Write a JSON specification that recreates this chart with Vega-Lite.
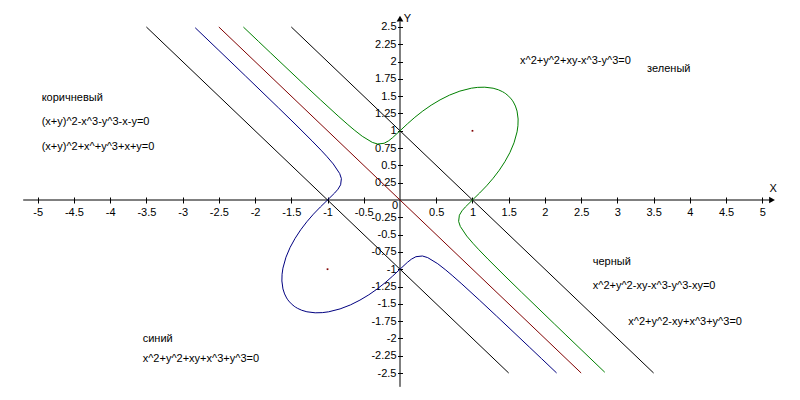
{
  "$schema": "https://vega.github.io/schema/vega-lite/v6.json",
  "width": 800,
  "height": 400,
  "autosize": "none",
  "padding": 0,
  "background": "white",
  "config": {"view": {"stroke": null}},
  "encoding": {
    "x": {
      "field": "x",
      "type": "quantitative",
      "scale": {"domain": [-5.52, 5.52], "nice": false, "zero": false},
      "axis": {
        "orient": "bottom",
        "offset": -203,
        "domain": false,
        "grid": false,
        "title": null,
        "tickSize": 6,
        "tickColor": "black",
        "tickWidth": 1,
        "values": [-5, -4.5, -4, -3.5, -3, -2.5, -2, -1.5, -1, -0.5, 0.5, 1, 1.5, 2, 2.5, 3, 3.5, 4, 4.5, 5],
        "labelExpr": "'' + datum.value",
        "labelFont": "Liberation Sans",
        "labelFontSize": 11,
        "labelColor": "black",
        "labelPadding": 3,
        "labelOverlap": false,
        "labelFlush": false,
        "labelBound": false
      }
    },
    "y": {
      "field": "y",
      "type": "quantitative",
      "scale": {"domain": [-2.89, 2.89], "nice": false, "zero": false},
      "axis": {
        "orient": "left",
        "offset": -402.5,
        "domain": false,
        "grid": false,
        "title": null,
        "tickSize": 5,
        "tickColor": "black",
        "tickWidth": 1,
        "values": [-2.5, -2.25, -2, -1.75, -1.5, -1.25, -1, -0.75, -0.5, -0.25, 0.25, 0.5, 0.75, 1, 1.25, 1.5, 1.75, 2, 2.25, 2.5],
        "labelExpr": "'' + datum.value",
        "labelFont": "Liberation Sans",
        "labelFontSize": 11,
        "labelColor": "black",
        "labelPadding": 1.5,
        "labelOverlap": false,
        "labelFlush": false,
        "labelBound": false
      }
    }
  },
  "layer": [
    {
      "data": {"values": [
        {"x": -5.2, "x2": 5.12, "y": 0, "y2": 0},
        {"x": 0, "x2": 0, "y": -2.7, "y2": 2.58}
      ]},
      "mark": {"type": "rule", "color": "black", "strokeWidth": 1},
      "encoding": {"x2": {"field": "x2"}, "y2": {"field": "y2"}}
    },
    {
      "data": {"values": [
        {"c": "k1", "i": 0, "x": -3.5, "y": 2.5}, {"c": "k1", "i": 1, "x": 1.5, "y": -2.5},
        {"c": "k2", "i": 0, "x": -1.5, "y": 2.5}, {"c": "k2", "i": 1, "x": 3.5, "y": -2.5},
        {"c": "r", "i": 0, "x": -2.5, "y": 2.5}, {"c": "r", "i": 1, "x": 2.5, "y": -2.5},
        {"c": "g", "i": 1, "x": -2.161, "y": 2.499},
        {"c": "g", "i": 2, "x": -1.951, "y": 2.29},
        {"c": "g", "i": 3, "x": -1.79, "y": 2.13},
        {"c": "g", "i": 4, "x": -1.33, "y": 1.675},
        {"c": "g", "i": 5, "x": -1.099, "y": 1.449},
        {"c": "g", "i": 6, "x": -0.854, "y": 1.214},
        {"c": "g", "i": 7, "x": -0.7195, "y": 1.0895},
        {"c": "g", "i": 8, "x": -0.632, "y": 1.012},
        {"c": "g", "i": 9, "x": -0.521, "y": 0.921},
        {"c": "g", "i": 10, "x": -0.3825, "y": 0.8325},
        {"c": "g", "i": 11, "x": -0.309, "y": 0.809},
        {"c": "g", "i": 12, "x": -0.2195, "y": 0.8195},
        {"c": "g", "i": 13, "x": -0.156, "y": 0.856},
        {"c": "g", "i": 14, "x": -0.1015, "y": 0.9015},
        {"c": "g", "i": 15, "x": 0, "y": 1},
        {"c": "g", "i": 16, "x": 0.101, "y": 1.099},
        {"c": "g", "i": 17, "x": 0.205, "y": 1.195},
        {"c": "g", "i": 18, "x": 0.3145, "y": 1.2855},
        {"c": "g", "i": 19, "x": 0.43, "y": 1.37},
        {"c": "g", "i": 20, "x": 0.553, "y": 1.447},
        {"c": "g", "i": 21, "x": 0.684, "y": 1.516},
        {"c": "g", "i": 22, "x": 0.8265, "y": 1.5735},
        {"c": "g", "i": 23, "x": 0.9845, "y": 1.6155},
        {"c": "g", "i": 24, "x": 1.0725, "y": 1.6275},
        {"c": "g", "i": 25, "x": 1.17, "y": 1.63},
        {"c": "g", "i": 26, "x": 1.2848, "y": 1.6153},
        {"c": "g", "i": 27, "x": 1.3573, "y": 1.5927},
        {"c": "g", "i": 28, "x": 1.4152, "y": 1.5648},
        {"c": "g", "i": 29, "x": 1.4421, "y": 1.548},
        {"c": "g", "i": 30, "x": 1.4601, "y": 1.535},
        {"c": "g", "i": 31, "x": 1.5, "y": 1.5},
        {"c": "g", "i": 32, "x": 1.535, "y": 1.4601},
        {"c": "g", "i": 33, "x": 1.548, "y": 1.4421},
        {"c": "g", "i": 34, "x": 1.5648, "y": 1.4152},
        {"c": "g", "i": 35, "x": 1.5927, "y": 1.3573},
        {"c": "g", "i": 36, "x": 1.6153, "y": 1.2848},
        {"c": "g", "i": 37, "x": 1.63, "y": 1.17},
        {"c": "g", "i": 38, "x": 1.6275, "y": 1.0725},
        {"c": "g", "i": 39, "x": 1.6155, "y": 0.9845},
        {"c": "g", "i": 40, "x": 1.5735, "y": 0.8265},
        {"c": "g", "i": 41, "x": 1.516, "y": 0.684},
        {"c": "g", "i": 42, "x": 1.447, "y": 0.553},
        {"c": "g", "i": 43, "x": 1.37, "y": 0.43},
        {"c": "g", "i": 44, "x": 1.2855, "y": 0.3145},
        {"c": "g", "i": 45, "x": 1.195, "y": 0.205},
        {"c": "g", "i": 46, "x": 1.099, "y": 0.101},
        {"c": "g", "i": 47, "x": 1, "y": 0},
        {"c": "g", "i": 48, "x": 0.9015, "y": -0.1015},
        {"c": "g", "i": 49, "x": 0.856, "y": -0.156},
        {"c": "g", "i": 50, "x": 0.8195, "y": -0.2195},
        {"c": "g", "i": 51, "x": 0.809, "y": -0.309},
        {"c": "g", "i": 52, "x": 0.8325, "y": -0.3825},
        {"c": "g", "i": 53, "x": 0.921, "y": -0.521},
        {"c": "g", "i": 54, "x": 1.012, "y": -0.632},
        {"c": "g", "i": 55, "x": 1.0895, "y": -0.7195},
        {"c": "g", "i": 56, "x": 1.214, "y": -0.854},
        {"c": "g", "i": 57, "x": 1.449, "y": -1.099},
        {"c": "g", "i": 58, "x": 1.675, "y": -1.33},
        {"c": "g", "i": 59, "x": 2.13, "y": -1.79},
        {"c": "g", "i": 60, "x": 2.29, "y": -1.951},
        {"c": "g", "i": 61, "x": 2.499, "y": -2.161},
        {"c": "g", "i": 62, "x": 2.826, "y": -2.489},
        {"c": "b", "i": 1, "x": 2.161, "y": -2.499},
        {"c": "b", "i": 2, "x": 1.951, "y": -2.29},
        {"c": "b", "i": 3, "x": 1.79, "y": -2.13},
        {"c": "b", "i": 4, "x": 1.33, "y": -1.675},
        {"c": "b", "i": 5, "x": 1.099, "y": -1.449},
        {"c": "b", "i": 6, "x": 0.854, "y": -1.214},
        {"c": "b", "i": 7, "x": 0.7195, "y": -1.0895},
        {"c": "b", "i": 8, "x": 0.632, "y": -1.012},
        {"c": "b", "i": 9, "x": 0.521, "y": -0.921},
        {"c": "b", "i": 10, "x": 0.3825, "y": -0.8325},
        {"c": "b", "i": 11, "x": 0.309, "y": -0.809},
        {"c": "b", "i": 12, "x": 0.2195, "y": -0.8195},
        {"c": "b", "i": 13, "x": 0.156, "y": -0.856},
        {"c": "b", "i": 14, "x": 0.1015, "y": -0.9015},
        {"c": "b", "i": 15, "x": 0, "y": -1},
        {"c": "b", "i": 16, "x": -0.101, "y": -1.099},
        {"c": "b", "i": 17, "x": -0.205, "y": -1.195},
        {"c": "b", "i": 18, "x": -0.3145, "y": -1.2855},
        {"c": "b", "i": 19, "x": -0.43, "y": -1.37},
        {"c": "b", "i": 20, "x": -0.553, "y": -1.447},
        {"c": "b", "i": 21, "x": -0.684, "y": -1.516},
        {"c": "b", "i": 22, "x": -0.8265, "y": -1.5735},
        {"c": "b", "i": 23, "x": -0.9845, "y": -1.6155},
        {"c": "b", "i": 24, "x": -1.0725, "y": -1.6275},
        {"c": "b", "i": 25, "x": -1.17, "y": -1.63},
        {"c": "b", "i": 26, "x": -1.2848, "y": -1.6153},
        {"c": "b", "i": 27, "x": -1.3573, "y": -1.5927},
        {"c": "b", "i": 28, "x": -1.4152, "y": -1.5648},
        {"c": "b", "i": 29, "x": -1.4421, "y": -1.548},
        {"c": "b", "i": 30, "x": -1.4601, "y": -1.535},
        {"c": "b", "i": 31, "x": -1.5, "y": -1.5},
        {"c": "b", "i": 32, "x": -1.535, "y": -1.4601},
        {"c": "b", "i": 33, "x": -1.548, "y": -1.4421},
        {"c": "b", "i": 34, "x": -1.5648, "y": -1.4152},
        {"c": "b", "i": 35, "x": -1.5927, "y": -1.3573},
        {"c": "b", "i": 36, "x": -1.6153, "y": -1.2848},
        {"c": "b", "i": 37, "x": -1.63, "y": -1.17},
        {"c": "b", "i": 38, "x": -1.6275, "y": -1.0725},
        {"c": "b", "i": 39, "x": -1.6155, "y": -0.9845},
        {"c": "b", "i": 40, "x": -1.5735, "y": -0.8265},
        {"c": "b", "i": 41, "x": -1.516, "y": -0.684},
        {"c": "b", "i": 42, "x": -1.447, "y": -0.553},
        {"c": "b", "i": 43, "x": -1.37, "y": -0.43},
        {"c": "b", "i": 44, "x": -1.2855, "y": -0.3145},
        {"c": "b", "i": 45, "x": -1.195, "y": -0.205},
        {"c": "b", "i": 46, "x": -1.099, "y": -0.101},
        {"c": "b", "i": 47, "x": -1, "y": 0},
        {"c": "b", "i": 48, "x": -0.9015, "y": 0.1015},
        {"c": "b", "i": 49, "x": -0.856, "y": 0.156},
        {"c": "b", "i": 50, "x": -0.8195, "y": 0.2195},
        {"c": "b", "i": 51, "x": -0.809, "y": 0.309},
        {"c": "b", "i": 52, "x": -0.8325, "y": 0.3825},
        {"c": "b", "i": 53, "x": -0.921, "y": 0.521},
        {"c": "b", "i": 54, "x": -1.012, "y": 0.632},
        {"c": "b", "i": 55, "x": -1.0895, "y": 0.7195},
        {"c": "b", "i": 56, "x": -1.214, "y": 0.854},
        {"c": "b", "i": 57, "x": -1.449, "y": 1.099},
        {"c": "b", "i": 58, "x": -1.675, "y": 1.33},
        {"c": "b", "i": 59, "x": -2.13, "y": 1.79},
        {"c": "b", "i": 60, "x": -2.29, "y": 1.951},
        {"c": "b", "i": 61, "x": -2.499, "y": 2.161},
        {"c": "b", "i": 62, "x": -2.826, "y": 2.489}
      ]},
      "mark": {"type": "line", "strokeWidth": 1},
      "encoding": {
        "color": {
          "field": "c",
          "type": "nominal",
          "scale": {"domain": ["k1", "k2", "r", "g", "b"], "range": ["#000000", "#000000", "#800000", "#008000", "#000080"]},
          "legend": null
        },
        "order": {"field": "i", "type": "quantitative"}
      }
    },
    {
      "data": {"values": [{"x": 1, "y": 1}, {"x": -1, "y": -1}]},
      "mark": {"type": "square", "size": 3, "color": "#800000", "opacity": 1}
    },
    {
      "data": {"values": [{"x": 5.134, "y": 0, "d": "r"}, {"x": 0, "y": 2.62, "d": "u"}]},
      "mark": {"type": "point", "filled": true, "color": "black", "size": 45, "opacity": 1},
      "encoding": {
        "shape": {"field": "d", "type": "nominal", "scale": {"domain": ["r", "u"], "range": ["triangle-right", "triangle-up"]}, "legend": null}
      }
    },
    {
      "data": {"values": [
        {"x": 5.15, "y": 0.16, "t": "X"},
        {"x": 0.104, "y": 2.62, "t": "Y"},
        {"x": -0.069, "y": -0.08, "t": "0"}
      ]},
      "mark": {"type": "text", "align": "center", "baseline": "middle", "font": "Liberation Sans", "fontSize": 11, "color": "black"},
      "encoding": {"text": {"field": "t"}}
    },
    {
      "data": {"values": [
        {"x": 1.656, "y": 2.009, "t": "x^2+y^2+xy-x^3-y^3=0"},
        {"x": 3.41, "y": 1.89, "t": "зеленый"},
        {"x": -4.945, "y": 1.47, "t": "коричневый"},
        {"x": -4.945, "y": 1.131, "t": "(x+y)^2-x^3-y^3-x-y=0"},
        {"x": -4.945, "y": 0.77, "t": "(x+y)^2+x^+y^3+x+y=0"},
        {"x": 2.66, "y": -0.891, "t": "черный"},
        {"x": 2.66, "y": -1.243, "t": "x^2+y^2-xy-x^3-y^3-xy=0"},
        {"x": 3.151, "y": -1.758, "t": "x^2+y^2-xy+x^3+y^3=0"},
        {"x": -3.551, "y": -2.009, "t": "синий"},
        {"x": -3.551, "y": -2.298, "t": "x^2+y^2+xy+x^3+y^3=0"}
      ]},
      "mark": {"type": "text", "align": "left", "baseline": "middle", "font": "Liberation Sans", "fontSize": 11, "color": "black"},
      "encoding": {"text": {"field": "t"}}
    }
  ]
}
